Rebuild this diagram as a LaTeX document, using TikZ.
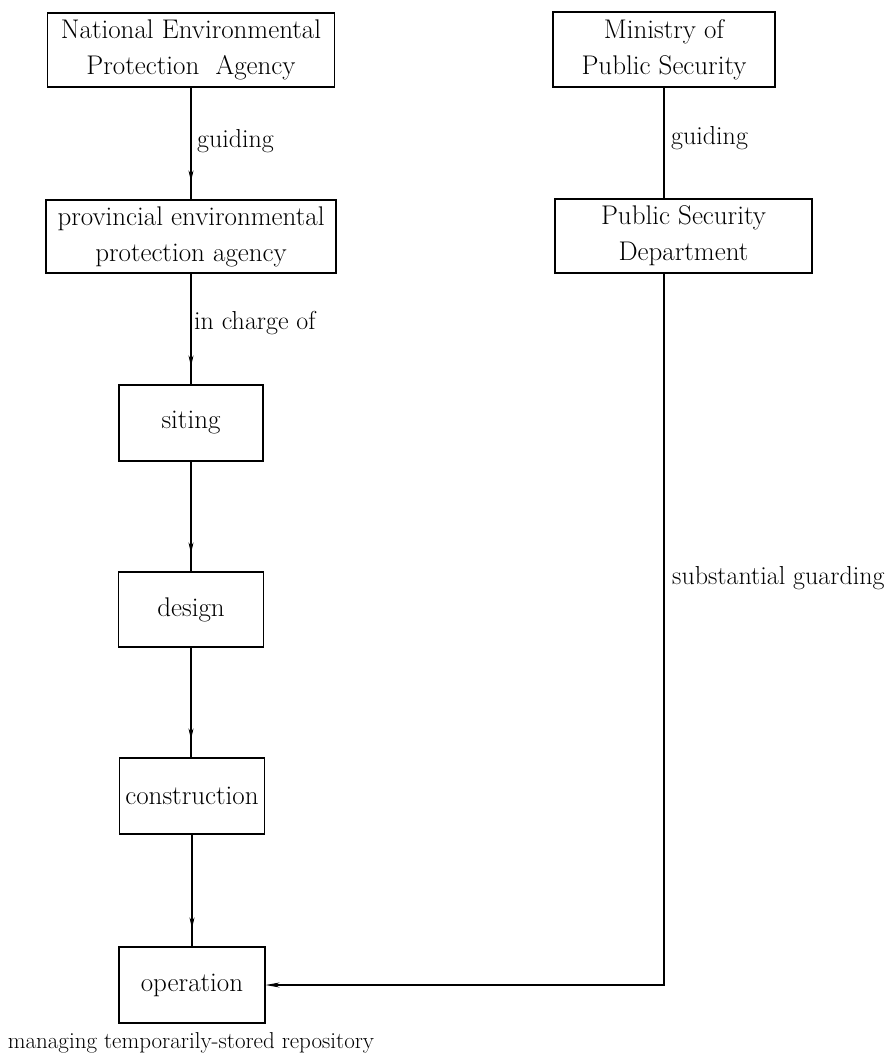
\documentclass[tikz,border=0pt]{standalone}
\usetikzlibrary{arrows.meta,decorations.markings}
\begin{document}
\begin{tikzpicture}[x=1pt,y=-1pt,
  box/.style={draw,line width=1.2pt,align=center,inner sep=0pt,
    font=\fontsize{27}{36}\selectfont},
  lbl/.style={anchor=west,inner sep=0pt,font=\fontsize{26}{30}\selectfont},
  conn/.style={line width=1.1pt},
  midarrow/.style={conn,postaction={decorate},decoration={markings,
    mark=at position -18pt with {\arrow{Stealth[length=11pt,width=5pt]}}}}
]
\useasboundingbox (0,0) rectangle (891,1064);
% left column
\node[box,minimum width=287pt,minimum height=74pt] (nepa) at (191,50) {National Environmental\\Protection\ \ Agency};
\node[box,minimum width=290pt,minimum height=73pt] (prov) at (191,236.5) {provincial environmental\\protection agency};
\node[box,minimum width=144pt,minimum height=76pt] (siting) at (191,423) {siting};
\node[box,minimum width=145pt,minimum height=75pt] (design) at (191,609.5) {design};
\node[box,minimum width=145pt,minimum height=76pt] (constr) at (192,796) {construction};
\node[box,minimum width=146pt,minimum height=76pt] (oper) at (192,985) {operation};
% right column
\node[box,minimum width=222pt,minimum height=75pt] (min) at (664,49.5) {Ministry of\\Public Security};
\node[box,minimum width=257pt,minimum height=74pt] (psd) at (683.5,236) {Public Security\\Department};
% connectors
\draw[midarrow] (nepa.south) -- (nepa.south |- prov.north);
\draw[midarrow] (prov.south) -- (prov.south |- siting.north);
\draw[midarrow] (siting.south) -- (siting.south |- design.north);
\draw[midarrow] (design.south) -- (design.south |- constr.north);
\draw[midarrow] (constr.south) -- (constr.south |- oper.north);
\draw[conn] (min.south) -- (min.south |- psd.north);
\coordinate (corner) at (min.south |- oper.east);
\draw[conn,-{Stealth[length=14pt,width=5pt]}] (min.south |- psd.south) -- (corner) -- (oper.east);
% labels
\node[lbl] (l1) at (197,141) {guiding};
\node[lbl] (l2) at (194,323) {in charge of};
\node[lbl] (l3) at (671,138) {guiding};
\node[lbl] (l4) at (672,578) {substantial guarding};
\node[inner sep=0pt,font=\fontsize{23}{28}\selectfont] (cap) at (191,1043) {managing temporarily-stored repository};
\end{tikzpicture}
\end{document}
